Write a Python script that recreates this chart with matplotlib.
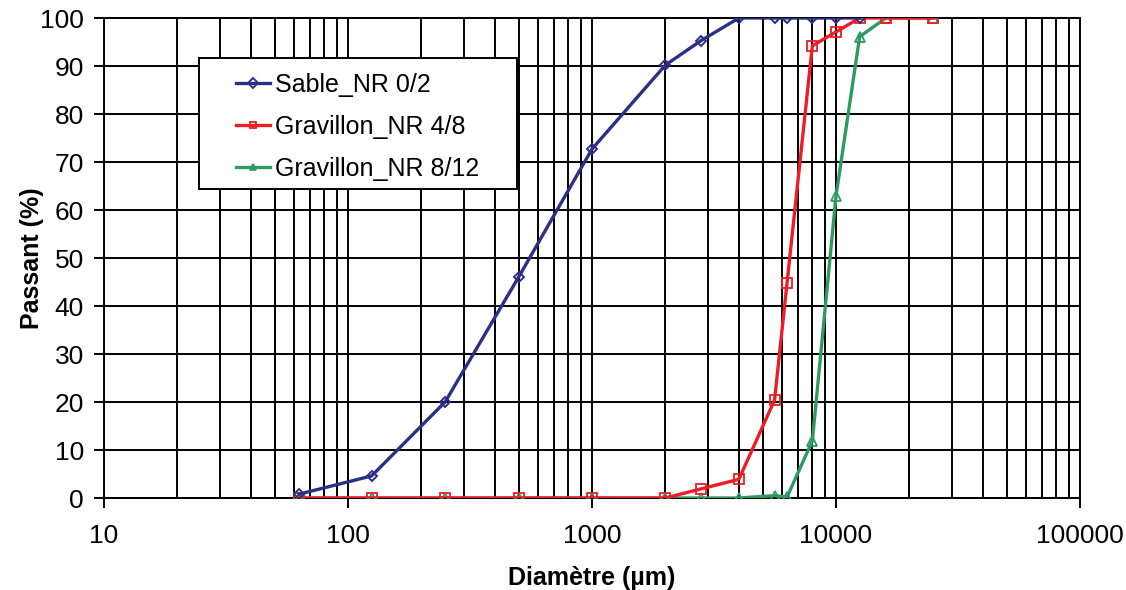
import matplotlib
matplotlib.use('Agg')
import matplotlib.pyplot as plt
from matplotlib.patches import Rectangle
from matplotlib.ticker import LogLocator, FixedLocator

plt.rcParams['font.family'] = ['Liberation Sans', 'DejaVu Sans']

# tamis (µm)
diam_sable = [63, 125, 250, 500, 1000, 2000, 2800, 4000, 5600, 6300, 8000, 10000, 12500]
pass_sable = [0.8, 4.6, 20, 46, 72.7, 90.2, 95.3, 100, 100, 100, 100, 100, 100]

diam_grav = [63, 125, 250, 500, 1000, 2000, 2800, 4000, 5600, 6300, 8000, 10000, 12500, 16000, 25000]
pass_g48 = [0, 0, 0, 0, 0, 0, 1.9, 3.9, 20.4, 44.8, 94.2, 97.1, 100, 100, 100]
pass_g812 = [0, 0, 0, 0, 0, 0, 0, 0, 0.5, 0.2, 11.9, 62.9, 96.1, 100, 100]

labels = ['Sable_NR 0/2', 'Gravillon_NR 4/8', 'Gravillon_NR 8/12']

fig = plt.figure(figsize=(11.26, 5.90), dpi=100)
ax = fig.add_axes([104 / 1126, 1 - 498 / 590, 976 / 1126, 480 / 590])

ax.plot(diam_sable, pass_sable, color='#2b2f86', lw=2.4, marker='D', ms=5,
        mfc='none', mew=1.4, label=labels[0], zorder=5)
ax.plot(diam_grav, pass_g48, color='#ee1c25', lw=2.4, marker='s', ms=7.5,
        mfc='none', mew=1.3, label=labels[1], zorder=4)
ax.plot(diam_grav, pass_g812, color='#2e9a63', lw=2.4, marker='^', ms=7.5,
        mfc='none', mew=1.3, label=labels[2], zorder=3)

ax.set_xscale('log')
ax.set_xlim(10, 100000)
ax.set_ylim(0, 100)
ax.set_yticks(range(0, 101, 10))
ax.xaxis.set_major_locator(FixedLocator([10, 100, 1000, 10000, 100000]))
ax.xaxis.set_major_formatter(plt.FuncFormatter(lambda v, p: '%d' % v))
ax.xaxis.set_minor_locator(LogLocator(base=10, subs=range(2, 10)))
ax.xaxis.set_minor_formatter(plt.NullFormatter())

ax.grid(True, which='both', axis='x', color='black', lw=1.4)
ax.grid(True, which='major', axis='y', color='black', lw=1.4)
ax.set_axisbelow(True)
for s in ax.spines.values():
    s.set_color('black')
    s.set_linewidth(1.4)

ax.tick_params(axis='y', which='major', length=7, width=1.4, labelsize=19, pad=7.5)
ax.tick_params(axis='x', which='major', length=7, width=1.4, labelsize=19, pad=12)
ax.tick_params(axis='x', which='minor', length=0)

ax.set_xlabel('Diamètre (µm)', fontsize=18, fontweight='bold', labelpad=13)
ax.set_ylabel('Passant (%)', fontsize=18, fontweight='bold')
ax.yaxis.set_label_coords(-0.061, 0.5)

# cadre de la légende (style Excel, plus large que le contenu)
bx, by, bw, bh = 0.0973, 0.644, 0.326, 0.273
ax.add_patch(Rectangle((bx, by), bw, bh, transform=ax.transAxes, facecolor='white',
                       edgecolor='black', lw=1.4, zorder=6))
leg = ax.legend(loc='center', bbox_to_anchor=(bx + bw / 2, by + bh / 2 - 0.008), fontsize=18,
                frameon=False, handlelength=1.36, labelspacing=0.72, handletextpad=0.2,
                borderpad=0, borderaxespad=0)
leg.set_zorder(7)
for h in leg.legend_handles:
    h.set_markersize(5)

fig.savefig('out.png', dpi=100)
